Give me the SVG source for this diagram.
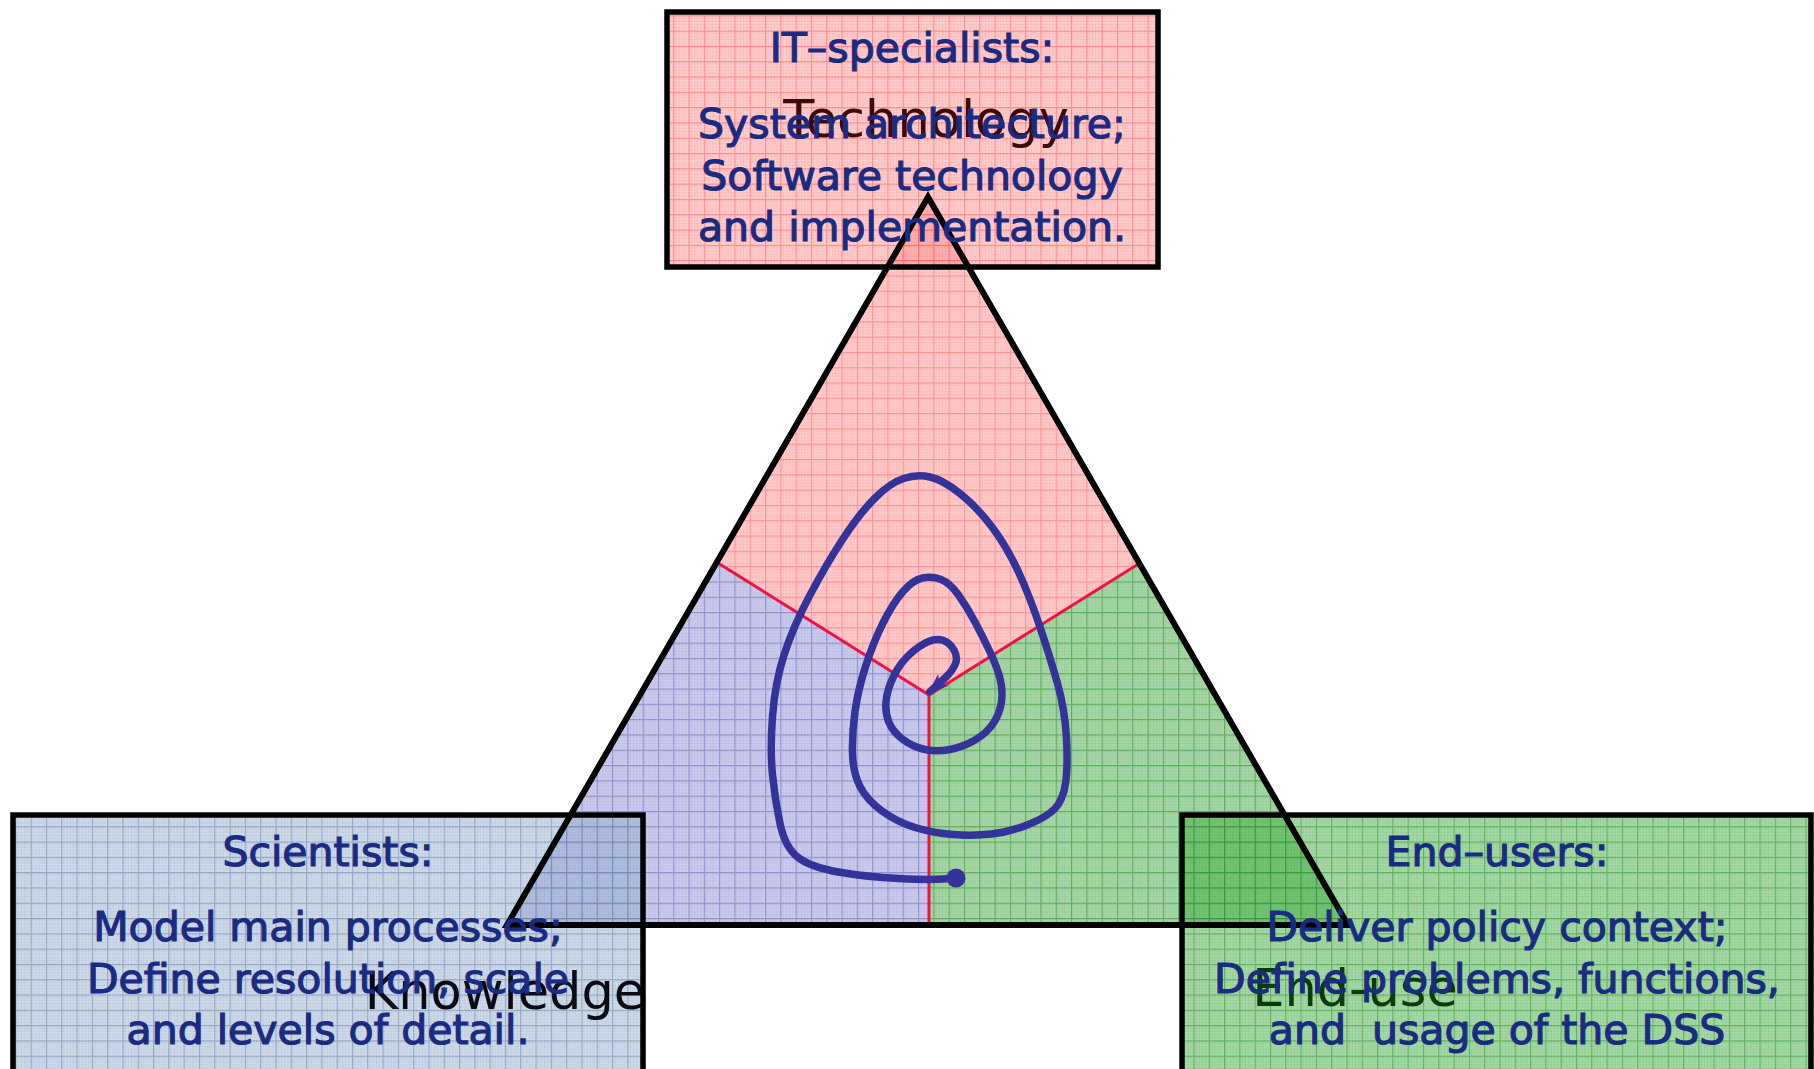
<svg xmlns="http://www.w3.org/2000/svg" width="1814" height="1069" viewBox="0 0 1814 1069">
<style>
  .blue { font-family: "DejaVu Sans", Verdana, sans-serif; font-size: 41px; fill: #1a2b82; stroke: #1a2b82; stroke-width: 1.2; text-anchor: middle; }
  .label { font-family: "DejaVu Sans", Verdana, sans-serif; font-size: 51px; text-anchor: middle; }
  .box { stroke: #000; stroke-width: 5.5; }
  .edge { fill: none; stroke: #000; stroke-width: 6; stroke-linejoin: miter; }
  .divider { fill: none; stroke: #ee1144; stroke-width: 3; }
  .spiral { fill: none; stroke: #333399; stroke-width: 7.5; stroke-linecap: round; stroke-linejoin: round; }
  .minor { stroke-width: 0.5; opacity: 0.4; }
  .major { stroke-width: 1.1; }
</style>
<defs>
  <pattern id="gPink" patternUnits="userSpaceOnUse" width="15.3" height="15.3">
    <rect width="15.3" height="15.3" fill="#ffcccc"/>
    <path class="minor" stroke="#ff8888" d="M3.06 0V15.3M6.12 0V15.3M9.18 0V15.3M12.24 0V15.3M0 3.06H15.3M0 6.12H15.3M0 9.18H15.3M0 12.24H15.3"/>
    <path class="major" stroke="#ff6a6a" opacity="0.6" d="M0.6 0V15.3M0 0.6H15.3"/>
  </pattern>
  <pattern id="gBlue" patternUnits="userSpaceOnUse" width="15.3" height="15.3">
    <rect width="15.3" height="15.3" fill="#ccccee"/>
    <path class="minor" stroke="#9999cc" d="M3.06 0V15.3M6.12 0V15.3M9.18 0V15.3M12.24 0V15.3M0 3.06H15.3M0 6.12H15.3M0 9.18H15.3M0 12.24H15.3"/>
    <path class="major" stroke="#6666b4" opacity="0.6" d="M0.6 0V15.3M0 0.6H15.3"/>
  </pattern>
  <pattern id="gGreen" patternUnits="userSpaceOnUse" width="15.3" height="15.3">
    <rect width="15.3" height="15.3" fill="#a8d6a8"/>
    <path class="minor" stroke="#6ab46a" d="M3.06 0V15.3M6.12 0V15.3M9.18 0V15.3M12.24 0V15.3M0 3.06H15.3M0 6.12H15.3M0 9.18H15.3M0 12.24H15.3"/>
    <path class="major" stroke="#2e962e" opacity="0.65" d="M0.6 0V15.3M0 0.6H15.3"/>
  </pattern>
  <pattern id="bPink" patternUnits="userSpaceOnUse" width="15.3" height="15.3">
    <rect width="15.3" height="15.3" fill="#ff9696" fill-opacity="0.45"/>
    <path class="minor" stroke="#ff7777" d="M3.06 0V15.3M6.12 0V15.3M9.18 0V15.3M12.24 0V15.3M0 3.06H15.3M0 6.12H15.3M0 9.18H15.3M0 12.24H15.3"/>
    <path class="major" stroke="#ff4444" opacity="0.5" d="M0.6 0V15.3M0 0.6H15.3"/>
  </pattern>
  <pattern id="bBlue" patternUnits="userSpaceOnUse" width="15.3" height="15.3">
    <rect width="15.3" height="15.3" fill="#96afcd" fill-opacity="0.45"/>
    <path class="minor" stroke="#8ca5c8" d="M3.06 0V15.3M6.12 0V15.3M9.18 0V15.3M12.24 0V15.3M0 3.06H15.3M0 6.12H15.3M0 9.18H15.3M0 12.24H15.3"/>
    <path class="major" stroke="#5a78a8" opacity="0.55" d="M0.6 0V15.3M0 0.6H15.3"/>
  </pattern>
  <pattern id="bGreen" patternUnits="userSpaceOnUse" width="15.3" height="15.3">
    <rect width="15.3" height="15.3" fill="#3caa3c" fill-opacity="0.45"/>
    <path class="minor" stroke="#5aaa5a" d="M3.06 0V15.3M6.12 0V15.3M9.18 0V15.3M12.24 0V15.3M0 3.06H15.3M0 6.12H15.3M0 9.18H15.3M0 12.24H15.3"/>
    <path class="major" stroke="#1e8c1e" opacity="0.55" d="M0.6 0V15.3M0 0.6H15.3"/>
  </pattern>
  <marker id="arrow" markerUnits="userSpaceOnUse" markerWidth="24" markerHeight="20" refX="0" refY="0" viewBox="-20 -10 24 20" orient="auto" overflow="visible">
    <path d="M2,0 L-18,-8 L-12,0 L-18,8 Z" fill="#333399"/>
  </marker>
  <marker id="dot" markerUnits="userSpaceOnUse" markerWidth="22" markerHeight="22" viewBox="-11 -11 22 22" refX="0" refY="0" overflow="visible">
    <circle r="9.5" fill="#333399"/>
  </marker>
</defs>

<rect width="1814" height="1069" fill="#ffffff"/>

<g id="triangle">
  <polygon points="928,197 1139,563 929,695 716,563" fill="url(#gPink)"/>
  <polygon points="716,563 929,695 929,925 507,925" fill="url(#gBlue)"/>
  <polygon points="1139,563 1348,925 929,925 929,695" fill="url(#gGreen)"/>
  <polyline class="divider" points="718,563 929,695 1140,563"/>
  <line class="divider" x1="929" y1="695" x2="929" y2="925"/>
</g>

<g id="node-technology">
  <rect class="box" x="667" y="12" width="491" height="255" fill="url(#bPink)"/>
</g>
<g id="node-knowledge">
  <rect class="box" x="13" y="815" width="630" height="270" fill="url(#bBlue)"/>
</g>
<g id="node-enduse">
  <rect class="box" x="1182" y="815" width="629" height="270" fill="url(#bGreen)"/>
</g>

<g id="triangle-outline">
  <polygon class="edge" points="928,197 1348,925 507,925"/>
</g>

<g id="labels">
  <text class="label" x="926" y="137" fill="#3c0a0a">Technology</text>
  <text class="label" x="505" y="1009" fill="#0a0a14">Knowledge</text>
  <text class="label" x="1355" y="1006" fill="#0b3b0b">End-use</text>
</g>

<g id="node-technology-text">
  <text class="blue" x="912" y="62">IT–specialists:</text>
  <text class="blue" x="912" y="138">System architecture;</text>
  <text class="blue" x="912" y="190">Software technology</text>
  <text class="blue" x="912" y="241">and implementation.</text>
</g>
<g id="node-knowledge-text">
  <text class="blue" x="328" y="866">Scientists:</text>
  <text class="blue" x="328" y="941">Model main processes;</text>
  <text class="blue" x="328" y="993">Define resolution, scale</text>
  <text class="blue" x="328" y="1044">and levels of detail.</text>
</g>
<g id="node-enduse-text">
  <text class="blue" x="1497" y="866">End–users:</text>
  <text class="blue" x="1497" y="941">Deliver policy context;</text>
  <text class="blue" x="1497" y="993">Define problems, functions,</text>
  <text class="blue" x="1497" y="1044" xml:space="preserve">and  usage of the DSS</text>
</g>

<g id="connectors">
  <path class="spiral" marker-start="url(#dot)" marker-end="url(#arrow)" d="M956,878 L943,879 Q930,880 898.5,878.5 Q867,877 838.5,872 Q810,867 797.5,857 Q785,847 780,823.5 Q775,800 772.5,775 Q770,750 772.5,716.5 Q775,683 784,655 Q793,627 810,595 Q827,563 843.5,538 Q860,513 875,498 Q890,483 903.5,478.5 Q917,474 930,477 Q943,480 960,493.5 Q977,507 992,527 Q1007,547 1018.5,572 Q1030,597 1040,627 Q1050,657 1057.5,683.5 Q1065,710 1066.5,738.5 Q1068,767 1065.5,783.5 Q1063,800 1055,808.5 Q1047,817 1028.5,824.5 Q1010,832 991.5,834 Q973,836 953,834.5 Q933,833 915,827.5 Q897,822 882,811 Q867,800 860,786.5 Q853,773 852.5,753 Q852,733 855,711.5 Q858,690 865.5,666.5 Q873,643 883,623 Q893,603 903,591.5 Q913,580 922.5,578 Q932,576 941,579.5 Q950,583 958.5,595 Q967,607 975,622 Q983,637 990,652 Q997,667 1000,678.5 Q1003,690 1001.5,701.5 Q1000,713 993.5,723 Q987,733 975,740 Q963,747 950,749.5 Q937,752 925,749.5 Q913,747 903,739.5 Q893,732 889,722.5 Q885,713 886,701.5 Q887,690 893.5,676.5 Q900,663 910,654 Q920,645 928.5,641.5 Q937,638 943.5,640.5 Q950,643 954,650 Q958,657 955.5,663.5 Q953,670 946.5,676.5 Q940,683 934,688 L930,691.5"/>
</g>
</svg>
